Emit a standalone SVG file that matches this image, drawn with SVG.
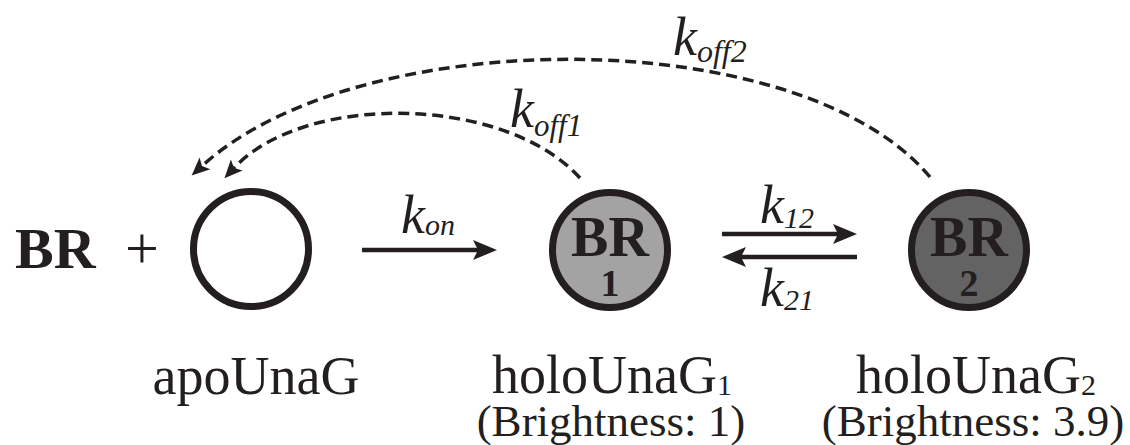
<svg xmlns="http://www.w3.org/2000/svg" width="1130" height="445" viewBox="0 0 1130 445">
<style>
  text { font-family: "Liberation Serif", "DejaVu Serif", "Times New Roman", serif; fill: #231f20; }
  .b { font-weight: bold; }
  .i { font-style: italic; }
  .node { stroke: #231f20; stroke-width: 7; }
  .solid { stroke: #231f20; stroke-width: 4.5; fill: none; }
  .dash { stroke: #231f20; stroke-width: 3.5; fill: none; stroke-dasharray: 11 6; }
</style>
<defs>
  <marker id="ah" markerUnits="userSpaceOnUse" markerWidth="30" markerHeight="24" viewBox="0 -12 30 24" refX="5" refY="0" orient="auto">
    <path d="M0,-10 L24,0 L0,10 L5,0 Z" fill="#231f20"/>
  </marker>
  <marker id="ahd" markerUnits="userSpaceOnUse" markerWidth="24" markerHeight="20" viewBox="0 -10 24 20" refX="4" refY="0" orient="auto">
    <path d="M0,-8 L18,0 L0,8 L4,0 Z" fill="#231f20"/>
  </marker>
</defs>

<g id="br-free">
  <text class="b" x="15" y="268" font-size="58" font-family="Liberation Serif, serif">BR</text>
  <text x="125" y="268" font-size="60" font-family="Liberation Serif, serif">+</text>
</g>

<g id="apoUnaG">
  <circle class="node" cx="251" cy="249" r="57.5" fill="#ffffff"/>
  <text x="256" y="394" font-size="54" text-anchor="middle" font-family="Liberation Serif, serif">apoUnaG</text>
</g>

<g id="holoUnaG1">
  <circle class="node" cx="610" cy="250" r="57.5" fill="#a3a3a3"/>
  <text class="b" x="610" y="256" font-size="56" text-anchor="middle" font-family="Liberation Serif, serif">BR</text>
  <text class="b" x="610" y="296" font-size="38" text-anchor="middle" font-family="Liberation Serif, serif">1</text>
  <text x="612" y="393" font-size="54" text-anchor="middle" font-family="Liberation Serif, serif">holoUnaG<tspan font-size="30" dy="2">1</tspan></text>
  <text x="611" y="436" font-size="45" text-anchor="middle" font-family="Liberation Serif, serif">(Brightness: 1)</text>
</g>

<g id="holoUnaG2">
  <circle class="node" cx="969" cy="250" r="57.5" fill="#636363"/>
  <text class="b" x="969" y="256" font-size="56" text-anchor="middle" font-family="Liberation Serif, serif">BR</text>
  <text class="b" x="969" y="296" font-size="38" text-anchor="middle" font-family="Liberation Serif, serif">2</text>
  <text x="976" y="393" font-size="54" text-anchor="middle" font-family="Liberation Serif, serif">holoUnaG<tspan font-size="30" dy="2">2</tspan></text>
  <text x="973" y="436" font-size="45" text-anchor="middle" font-family="Liberation Serif, serif">(Brightness: 3.9)</text>
</g>

<g id="connectors">
  <line class="solid" x1="362" y1="250" x2="478" y2="250" marker-end="url(#ah)"/>
  <line class="solid" x1="722" y1="234" x2="838" y2="234" marker-end="url(#ah)"/>
  <line class="solid" x1="857" y1="257" x2="741" y2="257" marker-end="url(#ah)"/>
  <path class="dash" d="M580,178 C505,95 305,92 234,168" marker-end="url(#ahd)"/>
  <path class="dash" d="M930,177 C800,22 360,22 202,166" marker-end="url(#ahd)"/>
</g>

<g id="labels">
  <text class="i" x="401" y="233" font-size="54" font-family="Liberation Serif, serif">k<tspan font-size="30" dy="2">on</tspan></text>
  <text class="i" x="760" y="223" font-size="54" font-family="Liberation Serif, serif">k<tspan font-size="30" dy="5">12</tspan></text>
  <text class="i" x="760" y="306" font-size="54" font-family="Liberation Serif, serif">k<tspan font-size="30" dy="4">21</tspan></text>
  <text class="i" x="510" y="127" font-size="54" font-family="Liberation Serif, serif">k<tspan font-size="31" dy="9">off1</tspan></text>
  <text class="i" x="673" y="55" font-size="54" font-family="Liberation Serif, serif">k<tspan font-size="32" dy="7">off2</tspan></text>
</g>
</svg>
